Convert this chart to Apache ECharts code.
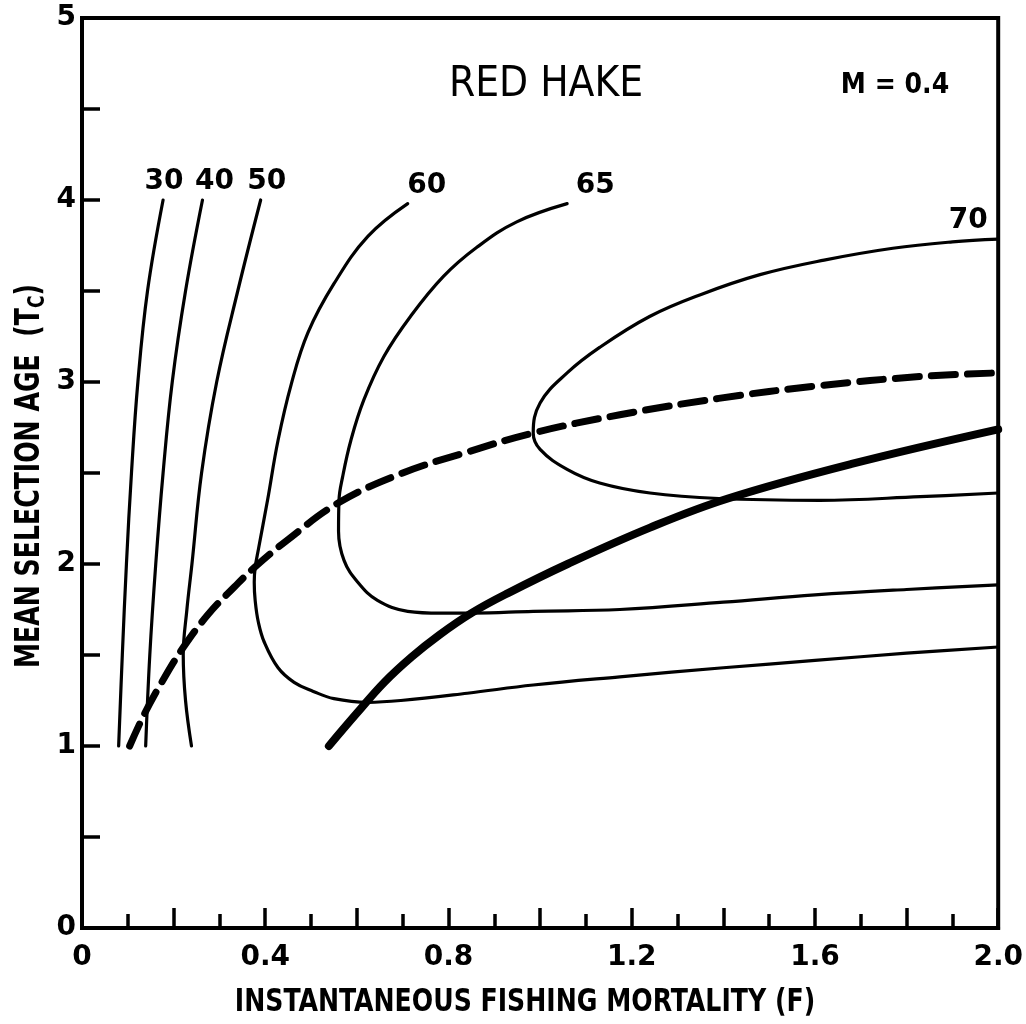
<!DOCTYPE html>
<html>
<head>
<meta charset="utf-8">
<script src="https://cdn.jsdelivr.net/npm/echarts@6/dist/echarts.min.js"></script>
<style>
  html, body { margin: 0; padding: 0; background: #fff; }
  #chart { width: 1026px; height: 1024px; }
</style>
</head>
<body>
<div id="chart"></div>
<script>
// Tick labels shown on the axes
const xTickLabels = ['0', '0.4', '0.8', '1.2', '1.6', '2.0'];
const yTickLabels = ['0', '1', '2', '3', '4', '5'];

// Yield-per-recruit isopleths, [F, Tc] pairs; the label sits at the last point
const contour30 = [[0.080, 1.0], [0.088, 1.5], [0.097, 2.0], [0.108, 2.5], [0.122, 3.0], [0.143, 3.5], [0.177, 4.0]];
const contour40 = [[0.139, 1.0], [0.148, 1.5], [0.161, 2.0], [0.177, 2.5], [0.197, 3.0], [0.226, 3.5], [0.263, 4.0]];
const contour50 = [[0.239, 1.0], [0.226, 1.25], [0.221, 1.5], [0.229, 1.75], [0.240, 2.0], [0.261, 2.5], [0.294, 3.0], [0.340, 3.5], [0.390, 4.0]];
const contour60 = [[2.0, 1.544], [1.8, 1.51], [1.6, 1.47], [1.4, 1.43], [1.174, 1.38], [0.985, 1.335], [0.841, 1.29], [0.696, 1.25], [0.624, 1.24], [0.55, 1.26], [0.505, 1.30], [0.463, 1.35], [0.428, 1.43], [0.398, 1.57], [0.385, 1.68], [0.378, 1.8], [0.376, 1.9], [0.378, 1.98], [0.385, 2.08], [0.405, 2.35], [0.428, 2.68], [0.457, 2.99], [0.493, 3.27], [0.55, 3.54], [0.624, 3.80], [0.711, 3.98]];
const contour65 = [[2.0, 1.885], [1.8, 1.86], [1.6, 1.83], [1.4, 1.79], [1.174, 1.75], [0.985, 1.74], [0.854, 1.73], [0.783, 1.73], [0.711, 1.74], [0.645, 1.80], [0.602, 1.90], [0.572, 2.02], [0.560, 2.18], [0.561, 2.35], [0.569, 2.48], [0.587, 2.68], [0.615, 2.90], [0.659, 3.14], [0.717, 3.36], [0.789, 3.58], [0.862, 3.74], [0.949, 3.88], [1.059, 3.98]];
const contour70 = [[2.0, 2.39], [1.83, 2.37], [1.61, 2.35], [1.39, 2.36], [1.24, 2.39], [1.13, 2.445], [1.059, 2.52], [1.0, 2.63], [0.985, 2.72], [1.0, 2.885], [1.059, 3.05], [1.13, 3.19], [1.239, 3.36], [1.35, 3.48], [1.48, 3.59], [1.62, 3.67], [1.77, 3.735], [1.9, 3.77], [2.0, 3.785]];

// Eumetric fishing curve (dashed) and maximum yield-per-recruit curve (heavy)
const eumetricCurve = [[0.104, 1.0], [0.137, 1.18], [0.174, 1.35], [0.222, 1.545], [0.276, 1.725], [0.333, 1.875], [0.376, 1.98], [0.45, 2.135], [0.559, 2.335], [0.70, 2.50], [0.841, 2.615], [0.985, 2.72], [1.174, 2.82], [1.39, 2.91], [1.61, 2.98], [1.83, 3.03], [2.0, 3.05]];
const maxYieldCurve = [[0.539, 1.0], [0.60, 1.18], [0.66, 1.35], [0.72, 1.49], [0.78, 1.61], [0.85, 1.73], [0.93, 1.84], [1.06, 2.0], [1.24, 2.2], [1.41, 2.36], [1.68, 2.55], [2.0, 2.74]];

const contourNames = ['30', '40', '50', '60', '65', '70'];
const contourData = [contour30, contour40, contour50, contour60, contour65, contour70];
// nudge of each isopleth label away from its curve's end point
const labelShift = [[1, 0], [12, 0], [6, 0], [19, 0], [28, 0], [-30, 0]];

const INK = '#000';
const digitFont = 'DejaVu Sans';
const narrowFont = "'Liberation Sans Narrow', 'DejaVu Sans Condensed', sans-serif";

function lineSeries(name, pts, width, type, label) {
  const data = pts.map(function (p, i) {
    if (label && i === pts.length - 1) {
      return {
        value: p,
        label: {
          show: true, position: 'top', distance: 4, offset: label.offset,
          formatter: label.text, color: INK, fontFamily: digitFont,
          fontWeight: 'bold', fontSize: 28
        }
      };
    }
    return p;
  });
  return {
    name: name,
    type: 'line',
    data: data,
    smooth: 0.4,
    showSymbol: true,
    symbol: 'circle',
    symbolSize: 0,
    label: { show: false },
    lineStyle: { color: INK, width: width, type: type, cap: 'round', join: 'round' },
    emphasis: { disabled: true },
    silent: true,
    clip: false,
    z: width > 5 ? 3 : 2
  };
}

const series = contourData.map(function (pts, i) {
  return lineSeries('Y/R ' + contourNames[i], pts, 3.2, 'solid',
    { text: contourNames[i], offset: labelShift[i] });
});
series.push(lineSeries('eumetric', eumetricCurve, 7, [24, 12], null));
series.push(lineSeries('max Y/R', maxYieldCurve, 8, 'solid', null));

const chart = echarts.init(document.getElementById('chart'), null, { renderer: 'canvas' });
chart.setOption({
  animation: false,
  backgroundColor: '#fff',
  grid: { left: 82, right: 26, top: 18, bottom: 96, show: true, borderColor: INK, borderWidth: 4, backgroundColor: 'transparent' },
  xAxis: {
    type: 'value', min: 0, max: 2, interval: 0.2,
    axisLine: { lineStyle: { color: INK, width: 4 } },
    axisTick: { inside: true, length: 20, lineStyle: { color: INK, width: 3.5 } },
    minorTick: { show: true, splitNumber: 2, length: 14, lineStyle: { color: INK, width: 3.5 } },
    splitLine: { show: false },
    minorSplitLine: { show: false },
    axisLabel: {
      margin: 16, color: INK, fontFamily: digitFont, fontWeight: 'bold', fontSize: 28,
      showMinLabel: true, showMaxLabel: true,
      formatter: function (v) {
        const k = Math.round(v * 10);
        return k % 4 === 0 ? xTickLabels[k / 4] : '';
      }
    }
  },
  yAxis: {
    type: 'value', min: 0, max: 5, interval: 0.5,
    axisLine: { lineStyle: { color: INK, width: 4 } },
    axisTick: { inside: true, length: 18, lineStyle: { color: INK, width: 3.5 } },
    splitLine: { show: false },
    axisLabel: {
      margin: 6, color: INK, fontFamily: digitFont, fontWeight: 'bold', fontSize: 28,
      formatter: function (v) {
        const k = Math.round(v * 2);
        return k % 2 === 0 ? yTickLabels[k / 2] : '';
      }
    }
  },
  graphic: [
    { type: 'text', x: 546, y: 85, silent: true,
      style: { text: 'RED HAKE', fill: INK, font: 'normal 42px ' + narrowFont, textAlign: 'center', textVerticalAlign: 'middle' } },
    { type: 'text', x: 895, y: 86, silent: true,
      style: { text: 'M = 0.4', fill: INK, font: 'bold 28px ' + narrowFont, textAlign: 'center', textVerticalAlign: 'middle' } },
    { type: 'text', x: 525, y: 1003, scaleY: 1.12, silent: true,
      style: { text: 'INSTANTANEOUS FISHING MORTALITY (F)', fill: INK, font: 'bold 28px ' + narrowFont, textAlign: 'center', textVerticalAlign: 'middle' } },
    { type: 'text', x: 30, y: 476, rotation: Math.PI / 2, scaleY: 1.2, silent: true,
      style: {
        text: 'MEAN SELECTION AGE  (T{sub|C})', fill: INK, font: 'bold 28px ' + narrowFont,
        textAlign: 'center', textVerticalAlign: 'middle',
        rich: { sub: { font: 'bold 19px ' + narrowFont, fill: INK, padding: [13, 0, 0, 0] } }
      } }
  ],
  series: series
});
</script>
</body>
</html>
